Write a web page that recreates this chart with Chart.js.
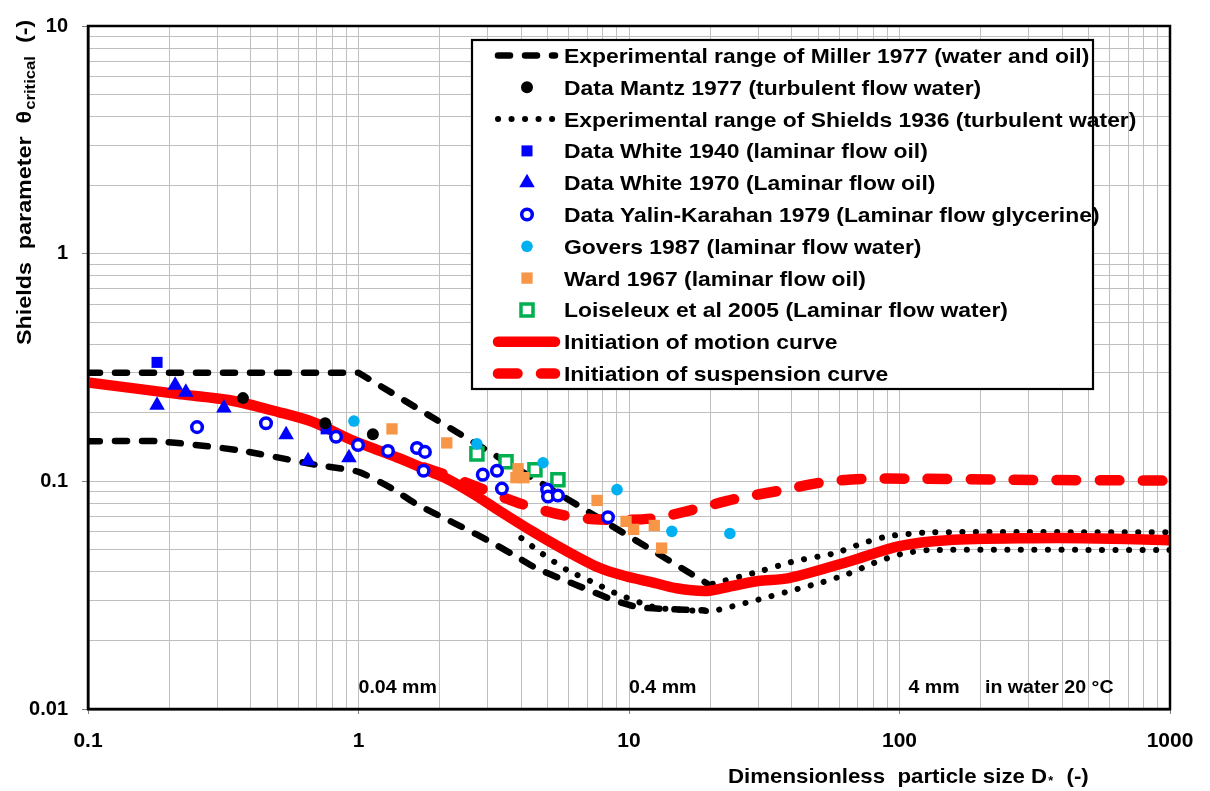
<!DOCTYPE html>
<html><head><meta charset="utf-8">
<script src="https://cdn.jsdelivr.net/npm/chart.js@4.4.1/dist/chart.umd.min.js"></script>
<style>html,body{margin:0;padding:0;background:#fff;overflow:hidden}#wrap{width:1210px;height:791px}</style>
</head><body><div id="wrap"><canvas id="c" width="1210" height="791"></canvas></div>
<script>
// ---------- axes ----------
const xMajorTicks = [0.1, 1, 10, 100, 1000];
const xTickLabels = ['0.1', '1', '10', '100', '1000'];
const yMajorTicks = [0.01, 0.1, 1, 10];
const yTickLabels = ['0.01', '0.1', '1', '10'];
const minorSteps = [2, 3, 4, 5, 6, 7, 8, 9];

// ---------- curves ----------
const millerUpperX = [0.1, 1.0, 19.5];
const millerUpperY = [0.30, 0.30, 0.0355];
const millerLowerX = [0.1, 0.18, 0.36, 0.7, 1.0, 1.33, 1.62, 2.02, 2.48, 3.01, 3.69, 4.53, 5.61, 7.05, 8.87, 10.8, 13.6, 19.0];
const millerLowerY = [0.150, 0.150, 0.137, 0.118, 0.110, 0.093, 0.080, 0.070, 0.062, 0.055, 0.048, 0.0416, 0.0373, 0.0334, 0.0299, 0.0280, 0.0275, 0.0271];
const shieldsUpperX = [20.4, 29, 41, 58, 73, 91, 130, 1000];
const shieldsUpperY = [0.0355, 0.0396, 0.0446, 0.0484, 0.0535, 0.0574, 0.0597, 0.0597];
const shieldsLowerX = [4.0, 4.8, 5.9, 7.3, 9.0, 11.3, 12.7, 16, 20.4, 29, 41, 52, 64.5, 80.5, 101, 128, 1000];
const shieldsLowerY = [0.0563, 0.0479, 0.0408, 0.0362, 0.0321, 0.029, 0.0278, 0.0272, 0.0270, 0.0299, 0.0334, 0.0361, 0.0392, 0.0438, 0.0479, 0.0499, 0.0499];
const motionX = [0.1, 0.22, 0.335, 0.51, 0.68, 0.93, 1.2, 1.42, 1.89, 2.18, 2.7, 3.33, 4.42, 5.6, 7.8, 9.8, 12, 15, 19.4, 24, 30, 39, 66, 100, 150, 311, 477, 1000];
const motionY = [0.272, 0.241, 0.227, 0.201, 0.182, 0.153, 0.136, 0.126, 0.109, 0.101, 0.087, 0.074, 0.060, 0.051, 0.0416, 0.0382, 0.0362, 0.0339, 0.033, 0.0347, 0.0365, 0.0376, 0.0447, 0.0519, 0.0551, 0.0563, 0.0563, 0.0551];
const suspensionX = [1.75, 2.0, 2.77, 3.95, 5.7, 7.8, 12.2, 17.2, 25, 36, 52, 75, 110, 235, 1000];
const suspensionY = [0.115, 0.109, 0.094, 0.080, 0.071, 0.068, 0.0687, 0.075, 0.084, 0.091, 0.099, 0.1027, 0.1027, 0.1017, 0.1007];

// ---------- data points ----------
const mantzX = [0.374, 0.753, 1.13];
const mantzY = [0.232, 0.180, 0.161];
const white1940X = [0.180, 0.759];
const white1940Y = [0.333, 0.170];
const white1970X = [0.180, 0.210, 0.230, 0.318, 0.540, 0.651, 0.922];
const white1970Y = [0.216, 0.264, 0.246, 0.210, 0.160, 0.123, 0.127];
const yalinX = [0.253, 0.455, 0.826, 0.996, 1.285, 1.645, 1.76, 1.74, 2.88, 3.25, 3.39, 4.98, 5.02, 5.46, 8.36];
const yalinY = [0.173, 0.180, 0.157, 0.1445, 0.136, 0.140, 0.1347, 0.1113, 0.107, 0.1113, 0.0929, 0.092, 0.0858, 0.0866, 0.0695];
const goversX = [0.962, 2.74, 4.81, 9.03, 14.4, 23.6];
const goversY = [0.184, 0.146, 0.1207, 0.092, 0.0603, 0.059];
const wardX = [1.33, 2.12, 3.89, 3.82, 4.09, 7.62, 9.75, 10.4, 12.4, 13.2];
const wardY = [0.170, 0.1475, 0.1136, 0.1038, 0.1038, 0.0824, 0.0667, 0.0615, 0.064, 0.0509];
const loiseleuxX = [2.74, 3.51, 4.49, 5.46];
const loiseleuxY = [0.132, 0.122, 0.1125, 0.1017];

// ---------- texts ----------
const legendLabels = [
  'Experimental range of Miller 1977 (water and oil)',
  'Data Mantz 1977 (turbulent flow water)',
  'Experimental range of Shields 1936 (turbulent water)',
  'Data White 1940 (laminar flow oil)',
  'Data White 1970 (Laminar flow oil)',
  'Data Yalin-Karahan 1979 (Laminar flow glycerine)',
  'Govers 1987 (laminar flow water)',
  'Ward 1967 (laminar flow oil)',
  'Loiseleux et al 2005 (Laminar flow water)',
  'Initiation of motion curve',
  'Initiation of suspension curve'
];
const sizeLabels = ['0.04 mm', '0.4 mm', '4 mm', 'in water 20 \u00B0C'];
const sizeLabelX = [1, 10, 108, 207];
const sizeLabelY = 0.0126;

const FONT = '"Liberation Sans", Arial, Helvetica, sans-serif';
const pts = (xs, ys) => xs.map((x, i) => ({x, y: ys[i]}));
const lineDs = (label, xs, ys, color, width, dash, order, tension) => ({
  label, data: pts(xs, ys), showLine: true, borderColor: color, backgroundColor: color,
  borderWidth: width, borderDash: dash, borderCapStyle: 'round', borderJoinStyle: 'round',
  pointRadius: 0, pointHoverRadius: 0, order, tension, fill: false
});
const markDs = (label, xs, ys, style, r, fill, stroke, bw) => ({
  label, data: pts(xs, ys), showLine: false, pointStyle: style, pointRadius: r, pointHoverRadius: r,
  pointBackgroundColor: fill, pointBorderColor: stroke, pointBorderWidth: bw,
  backgroundColor: fill, borderColor: stroke, order: 0
});

const datasets = [
  lineDs('millerUpper', millerUpperX, millerUpperY, '#000', 6.5, [12, 15], 3, 0),          //0
  lineDs('millerLower', millerLowerX, millerLowerY, '#000', 6.5, [12, 15], 3, 0.2),        //1
  lineDs('shieldsUpper', shieldsUpperX, shieldsUpperY, '#000', 6, [0.1, 13.4], 3, 0.2),    //2
  lineDs('shieldsLower', shieldsLowerX, shieldsLowerY, '#000', 6, [0.1, 13.4], 3, 0.2),    //3
  markDs('mantz', mantzX, mantzY, 'circle', 6, '#000', '#000', 0),                         //4
  markDs('white1940', white1940X, white1940Y, 'rect', 7.8, '#0000FF', '#0000FF', 0),       //5
  markDs('white1970', white1970X, white1970Y, 'triangle', 9, '#0000FF', '#0000FF', 0),     //6
  markDs('yalin', yalinX, yalinY, 'circle', 5.3, '#FFFFFF', '#0000FF', 3.5),               //7
  markDs('govers', goversX, goversY, 'circle', 5.8, '#00B0F0', '#00B0F0', 0),              //8
  markDs('ward', wardX, wardY, 'rect', 8, '#F79646', '#F79646', 0),                        //9
  markDs('loiseleux', loiseleuxX, loiseleuxY, 'rect', 8.5, '#FFFFFF', '#00B050', 3.5),     //10
  lineDs('motion', motionX, motionY, '#FF0000', 10.5, [], 1, 0.3),                         //11
  lineDs('suspension', suspensionX, suspensionY, '#FF0000', 10.5, [19.5, 23.5], 1, 0.3)   //12
];
const legendSources = [0, 4, 2, 5, 6, 7, 8, 9, 10, 11, 12];

function buildTicks(majors) {
  const out = [];
  majors.forEach((m, i) => {
    out.push({value: m, major: true});
    if (i < majors.length - 1) minorSteps.forEach(s => out.push({value: m * s, major: false}));
  });
  return out;
}
function labelFor(v, majors, labels) {
  const i = majors.findIndex(m => Math.abs(Math.log10(m) - Math.log10(v)) < 1e-6);
  return i >= 0 ? labels[i] : '';
}
const isMajor = (v, majors) => majors.some(m => Math.abs(Math.log10(m) - Math.log10(v)) < 1e-6);

function drawMarker(ctx, style, r, x, y, fill, stroke, bw) {
  ctx.save();
  ctx.fillStyle = fill; ctx.strokeStyle = stroke; ctx.lineWidth = bw;
  ctx.beginPath();
  if (style === 'circle') {
    ctx.arc(x, y, r, 0, Math.PI * 2);
  } else if (style === 'rect') {
    const s = Math.SQRT1_2 * r;
    ctx.rect(x - s, y - s, 2 * s, 2 * s);
  } else if (style === 'triangle') {
    ctx.moveTo(x, y - r);
    ctx.lineTo(x + Math.sin(Math.PI * 2 / 3) * r, y - Math.cos(Math.PI * 2 / 3) * r);
    ctx.lineTo(x - Math.sin(Math.PI * 2 / 3) * r, y - Math.cos(Math.PI * 2 / 3) * r);
    ctx.closePath();
  }
  ctx.fill();
  if (bw > 0) ctx.stroke();
  ctx.restore();
}
function sText(ctx, text, x, y, sx) {
  ctx.save(); ctx.translate(x, y); ctx.scale(sx, 1); ctx.fillText(text, 0, 0);
  const w = ctx.measureText(text).width * sx; ctx.restore(); return w;
}

const overlay = {
  id: 'overlay',
  afterDatasetsDraw(chart) {
    const {ctx, chartArea: a} = chart;
    ctx.save();
    ctx.strokeStyle = '#000'; ctx.lineWidth = 2.5;
    ctx.strokeRect(a.left, a.top, a.right - a.left, a.bottom - a.top);
    ctx.restore();
  },
  afterDraw(chart) {
    const {ctx} = chart;
    const xs = chart.scales.x, ys = chart.scales.y;
    ctx.save();
    ctx.fillStyle = '#000';
    ctx.textBaseline = 'alphabetic';
    // size annotations
    ctx.font = 'bold 19px ' + FONT;
    sizeLabels.forEach((t, i) => {
      sText(ctx, t, xs.getPixelForValue(sizeLabelX[i]), ys.getPixelForValue(sizeLabelY) + 7, 1.03);
    });
    // legend
    const L = 472, T = 40, R = 1093, B = 389;
    ctx.fillStyle = '#fff'; ctx.fillRect(L, T, R - L, B - T);
    ctx.strokeStyle = '#000'; ctx.lineWidth = 2.2; ctx.strokeRect(L, T, R - L, B - T);
    legendLabels.forEach((lab, i) => {
      const d = datasets[legendSources[i]];
      const cy = 55.5 + i * 31.8;
      if (d.showLine) {
        ctx.save();
        ctx.strokeStyle = d.borderColor; ctx.lineWidth = d.borderWidth;
        ctx.setLineDash(d.borderDash); ctx.lineCap = 'round';
        ctx.beginPath(); ctx.moveTo(498, cy); ctx.lineTo(555, cy); ctx.stroke();
        ctx.restore();
      } else {
        drawMarker(ctx, d.pointStyle, d.pointRadius, 527, cy, d.pointBackgroundColor, d.pointBorderColor, d.pointBorderWidth);
      }
      ctx.fillStyle = '#000';
      ctx.font = 'bold 21px ' + FONT;
      sText(ctx, lab, 564, cy + 7.5, 1.09);
    });
    // x title
    ctx.fillStyle = '#000';
    ctx.font = 'bold 21px ' + FONT;
    let x = 728; const by = 783;
    x += sText(ctx, 'Dimensionless  particle size D', x, by, 1.06);
    ctx.font = 'bold 12px ' + FONT;
    x += sText(ctx, '*', x + 1, by + 2, 1.06) + 2;
    ctx.font = 'bold 21px ' + FONT;
    sText(ctx, '  (-)', x, by, 1.06);
    // y title
    ctx.save();
    ctx.translate(31, 345);
    ctx.rotate(-Math.PI / 2);
    ctx.scale(1.11, 1);
    ctx.font = 'bold 21px ' + FONT;
    let p = 0;
    const t1 = 'Shields  parameter  \u03B8';
    ctx.fillText(t1, p, 0); p += ctx.measureText(t1).width;
    ctx.font = 'bold 15px ' + FONT;
    ctx.fillText('critical', p + 1, 4); p += ctx.measureText('critical').width + 1;
    ctx.font = 'bold 21px ' + FONT;
    ctx.fillText('  (-)', p, 0);
    ctx.restore();
    ctx.restore();
  }
};

new Chart(document.getElementById('c'), {
  type: 'scatter',
  data: {datasets},
  options: {
    responsive: false, animation: false, devicePixelRatio: 1,
    layout: {padding: {top: 21, right: 40, left: 0, bottom: 0}},
    plugins: {legend: {display: false}, tooltip: {enabled: false}},
    scales: {
      x: {
        type: 'logarithmic', position: 'bottom', min: 0.1, max: 1000,
        afterBuildTicks: s => { s.ticks = buildTicks(xMajorTicks); },
        afterFit: s => { s.height = 82; },
        grid: {color: '#BFBFBF', lineWidth: 1, tickLength: 5,
               tickColor: c => (c.tick && isMajor(c.tick.value, xMajorTicks)) ? '#808080' : 'rgba(0,0,0,0)'},
        border: {display: true, color: '#000', width: 2.5},
        ticks: {autoSkip: false, maxRotation: 0, padding: 15, color: '#000',
                font: {family: FONT, size: 21, weight: 'bold'},
                callback: v => labelFor(v, xMajorTicks, xTickLabels)}
      },
      y: {
        type: 'logarithmic', position: 'left', min: 0.01, max: 10,
        afterBuildTicks: s => { s.ticks = buildTicks(yMajorTicks); },
        afterFit: s => { s.width = 88; },
        grid: {color: '#BFBFBF', lineWidth: 1, tickLength: 6,
               tickColor: c => (c.tick && isMajor(c.tick.value, yMajorTicks)) ? '#808080' : 'rgba(0,0,0,0)'},
        border: {display: true, color: '#000', width: 2.5},
        ticks: {autoSkip: false, padding: 14, color: '#000',
                font: {family: FONT, size: 20, weight: 'bold'},
                callback: v => labelFor(v, yMajorTicks, yTickLabels)}
      }
    }
  },
  plugins: [overlay]
});
</script>
</body></html>
